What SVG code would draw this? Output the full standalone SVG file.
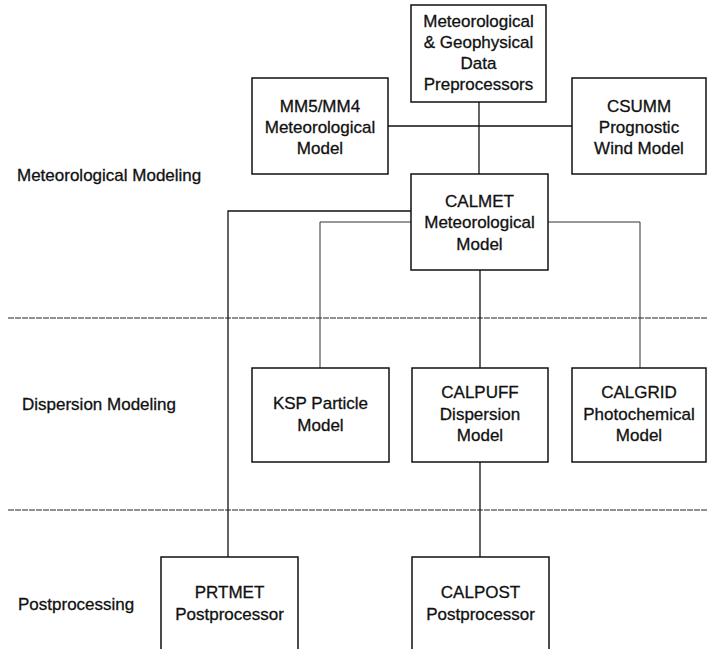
<svg xmlns="http://www.w3.org/2000/svg" width="708" height="649" viewBox="0 0 708 649">
<style>
.box{fill:#fff;stroke:#111;stroke-width:1.5}
.t{font-family:"Liberation Sans",Arial,sans-serif;font-size:17px;fill:#111;stroke:#111;stroke-width:0.3;text-anchor:middle}
.lab{font-family:"Liberation Sans",Arial,sans-serif;font-size:17px;fill:#111;stroke:#111;stroke-width:0.3}
.c{fill:none;stroke:#111;stroke-width:1.3}
.cl{fill:none;stroke:#333;stroke-width:1}
.sep{fill:none;stroke:#222;stroke-width:1;stroke-dasharray:6 1}
</style>
<rect width="708" height="649" fill="#fff"/>
<g id="separators">
<line class="sep" x1="8" y1="318" x2="708" y2="318"/>
<line class="sep" x1="8" y1="510" x2="708" y2="510"/>
</g>
<g id="labels">
<text class="lab" x="17" y="181">Meteorological Modeling</text>
<text class="lab" x="22" y="410">Dispersion Modeling</text>
<text class="lab" x="18" y="610">Postprocessing</text>
</g>
<g id="connectors">
<line class="c" x1="479" y1="102" x2="479" y2="174"/>
<line class="c" x1="388" y1="126" x2="572" y2="126"/>
<polyline class="c" points="411,211 228,211 228,557"/>
<polyline class="cl" points="411,222 320,222 320,368"/>
<polyline class="cl" points="548,222 640,222 640,368"/>
<line class="c" x1="480" y1="270" x2="480" y2="368"/>
<line class="c" x1="480" y1="462" x2="480" y2="557"/>
</g>
<g id="data-preprocessors">
<rect class="box" x="411" y="5" width="135" height="97"/>
<text class="t" x="478.5" y="27">Meteorological</text>
<text class="t" x="478.5" y="48">&amp; Geophysical</text>
<text class="t" x="478.5" y="69">Data</text>
<text class="t" x="478.5" y="90">Preprocessors</text>
</g>
<g id="mm5">
<rect class="box" x="252" y="78" width="136" height="96"/>
<text class="t" x="320" y="112">MM5/MM4</text>
<text class="t" x="320" y="133">Meteorological</text>
<text class="t" x="320" y="154">Model</text>
</g>
<g id="csumm">
<rect class="box" x="572" y="78" width="134" height="96"/>
<text class="t" x="639" y="112">CSUMM</text>
<text class="t" x="639" y="133">Prognostic</text>
<text class="t" x="639" y="154">Wind Model</text>
</g>
<g id="calmet">
<rect class="box" x="411" y="174" width="137" height="96"/>
<text class="t" x="479.5" y="207">CALMET</text>
<text class="t" x="479.5" y="228">Meteorological</text>
<text class="t" x="479.5" y="250">Model</text>
</g>
<g id="ksp">
<rect class="box" x="252" y="368" width="137" height="94"/>
<text class="t" x="320.5" y="409">KSP Particle</text>
<text class="t" x="320.5" y="431">Model</text>
</g>
<g id="calpuff">
<rect class="box" x="412" y="368" width="136" height="94"/>
<text class="t" x="480" y="398">CALPUFF</text>
<text class="t" x="480" y="420">Dispersion</text>
<text class="t" x="480" y="441">Model</text>
</g>
<g id="calgrid">
<rect class="box" x="572" y="368" width="134" height="94"/>
<text class="t" x="639" y="398">CALGRID</text>
<text class="t" x="639" y="420">Photochemical</text>
<text class="t" x="639" y="441">Model</text>
</g>
<g id="prtmet">
<rect class="box" x="161" y="557" width="137" height="100"/>
<text class="t" x="229.5" y="598">PRTMET</text>
<text class="t" x="229.5" y="620">Postprocessor</text>
</g>
<g id="calpost">
<rect class="box" x="412" y="557" width="137" height="100"/>
<text class="t" x="480.5" y="598">CALPOST</text>
<text class="t" x="480.5" y="620">Postprocessor</text>
</g>
</svg>
